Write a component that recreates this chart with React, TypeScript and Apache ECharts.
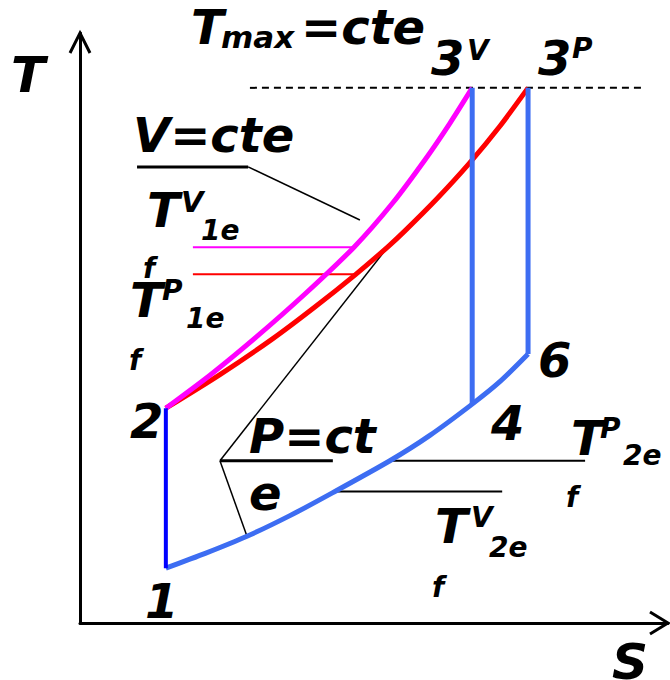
import React, { useEffect, useRef } from "react";
import * as echarts from "echarts";

type Pt = [number, number];

// T–S plane, both axes in arbitrary units 0..10 (S horizontal, T vertical)
const S_RANGE: Pt = [0, 10];
const T_RANGE: Pt = [0, 10];

// 1 → 2 : isentropic compression
const compression12: Pt[] = [[1.46, 0.93], [1.46, 3.64]];
// 2 → 3V : heat addition at constant volume
const heatingV: Pt[] = [
  [1.46, 3.64], [2.21, 4.2], [2.99, 4.84], [3.83, 5.58], [4.66, 6.37],
  [5.31, 7.11], [5.88, 7.87], [6.29, 8.47], [6.67, 9.07],
];
// 2 → 3P : heat addition at constant pressure
const heatingP: Pt[] = [
  [1.46, 3.64], [2.38, 4.21], [3.28, 4.82], [4.0, 5.36], [4.69, 5.91],
  [5.24, 6.38], [5.53, 6.65], [6.07, 7.19], [6.62, 7.79], [7.14, 8.42], [7.62, 9.07],
];
// 3V → 4 and 3P → 6 : isentropic expansion
const expansionV: Pt[] = [[6.67, 9.07], [6.67, 3.71]];
const expansionP: Pt[] = [[7.62, 9.07], [7.62, 4.56]];
// 1 → 4 → 6 : heat rejection at constant pressure
const rejection: Pt[] = [
  [1.46, 0.93], [2.13, 1.18], [2.84, 1.47], [3.57, 1.82], [4.3, 2.21],
  [5.27, 2.75], [5.95, 3.18], [6.67, 3.71], [7.14, 4.09], [7.62, 4.56],
];
// Tmax = cte
const tMaxLine: Pt[] = [[2.89, 9.07], [9.56, 9.07]];

// leader lines for the annotations
const leaderTV1: Pt[] = [[1.92, 6.37], [4.66, 6.37]];
const leaderTP1: Pt[] = [[1.92, 5.91], [4.69, 5.91]];
const vCteBar: Pt[] = [[0.97, 7.73], [2.86, 7.73]];
const vCtePointer: Pt[] = [[2.86, 7.73], [4.76, 6.83]];
const pCteBar: Pt[] = [[2.38, 2.75], [4.3, 2.75]];
const pCtePointerUp: Pt[] = [[2.38, 2.75], [5.24, 6.38]];
const pCtePointerDown: Pt[] = [[2.38, 2.75], [2.84, 1.47]];
const leaderTP2: Pt[] = [[5.27, 2.75], [8.59, 2.75]];
const leaderTV2: Pt[] = [[4.32, 2.23], [7.18, 2.23]];

const BLUE = "#3d6df2";
const FONT = "DejaVu Sans";

function lineSeries(data: Pt[], color: string, width: number, extra: any = {}) {
  return {
    type: "line",
    data,
    showSymbol: false,
    symbol: "none",
    silent: true,
    lineStyle: { color, width, join: "round", ...(extra.lineStyle || {}) },
    smooth: extra.smooth ?? false,
    z: extra.z ?? 2,
  };
}

// text label: left x, baseline y, font size
function label(text: string, x: number, baseline: number, size: number) {
  return {
    type: "text",
    x,
    y: baseline - 0.346 * size,
    style: {
      text,
      fill: "#000",
      font: `italic bold ${size}px "${FONT}"`,
      textAlign: "left",
      textVerticalAlign: "middle",
    },
    z: 10,
  };
}

export default function App() {
  const ref = useRef<HTMLDivElement>(null);

  useEffect(() => {
    if (!ref.current) return;
    const chart = echarts.init(ref.current, undefined, { renderer: "svg" });
    const axisCommon = {
      type: "value",
      axisLine: { show: true, onZero: false, lineStyle: { color: "#000", width: 3 } },
      axisTick: { show: false },
      axisLabel: { show: false },
      splitLine: { show: false },
    };
    chart.setOption({
      animation: false,
      backgroundColor: "#fff",
      grid: { left: 80, right: 2, top: 33, bottom: 57 },
      xAxis: { ...axisCommon, min: S_RANGE[0], max: S_RANGE[1] },
      yAxis: { ...axisCommon, min: T_RANGE[0], max: T_RANGE[1] },
      series: [
        lineSeries(tMaxLine, "#000", 2, { lineStyle: { type: [7, 5] } }),
        lineSeries(leaderTV1, "#ff00ff", 2),
        lineSeries(leaderTP1, "#ff0000", 2),
        lineSeries(vCteBar, "#000", 3),
        lineSeries(vCtePointer, "#000", 1.5),
        lineSeries(pCteBar, "#000", 3),
        lineSeries(pCtePointerUp, "#000", 1.5),
        lineSeries(pCtePointerDown, "#000", 1.5),
        lineSeries(leaderTP2, "#000", 2),
        lineSeries(leaderTV2, "#000", 2),
        lineSeries(heatingP, "#ff0000", 5, { smooth: 0.25, z: 3 }),
        lineSeries(heatingV, "#ff00ff", 5, { smooth: 0.25, z: 4 }),
        lineSeries(expansionV, BLUE, 5, { z: 5 }),
        lineSeries(expansionP, BLUE, 5, { z: 5 }),
        lineSeries(rejection, BLUE, 5, { smooth: 0.25, z: 5 }),
        lineSeries(compression12, "#0000ff", 4, { z: 5 }),
      ],
      graphic: [
        // axis arrowheads
        {
          type: "polyline",
          shape: { points: [[70, 53], [80, 33], [90, 53]] },
          style: { stroke: "#000", lineWidth: 3, fill: null },
          z: 10,
        },
        {
          type: "polyline",
          shape: { points: [[650, 612], [668, 623], [650, 634]] },
          style: { stroke: "#000", lineWidth: 3, fill: null },
          z: 10,
        },
        label("T", 11, 92, 50),
        label("S", 612, 679, 50),
        label("T", 191, 44, 48),
        label("max", 221, 48, 31),
        label("=cte", 301, 44, 48),
        label("3", 431, 75, 48),
        label("V", 467, 60, 28),
        label("3", 538, 75, 48),
        label("P", 572, 58, 28),
        label("V=cte", 133, 152, 48),
        label("T", 147, 227, 48),
        label("V", 181, 212, 29),
        label("1e", 201, 240, 28),
        label("f", 143, 278, 28),
        label("T", 130, 317, 48),
        label("P", 162, 300, 28),
        label("1e", 186, 328, 28),
        label("f", 129, 370, 28),
        label("2", 130, 438, 48),
        label("1", 145, 618, 48),
        label("P=ct", 249, 453, 48),
        label("e", 249, 510, 48),
        label("4", 491, 440, 48),
        label("6", 538, 377, 48),
        label("T", 571, 455, 48),
        label("P", 600, 438, 28),
        label("2e", 623, 465, 28),
        label("f", 566, 507, 28),
        label("T", 435, 543, 48),
        label("V", 471, 527, 28),
        label("2e", 489, 557, 28),
        label("f", 432, 597, 28),
      ],
    });
    return () => chart.dispose();
  }, []);

  return (
    <div
      ref={ref}
      style={{ position: "fixed", left: 0, top: 0, width: 670, height: 680, background: "#fff" }}
    />
  );
}
